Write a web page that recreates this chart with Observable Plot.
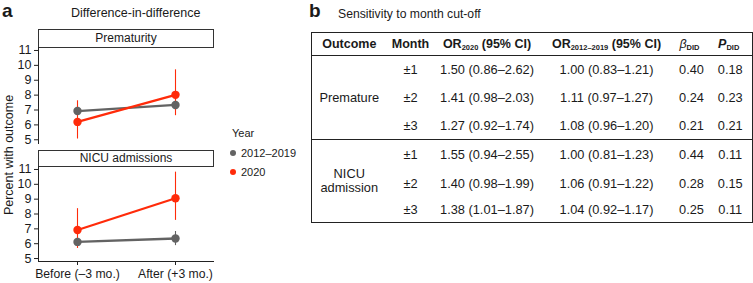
<!DOCTYPE html>
<html>
<head>
<meta charset="utf-8">
<script src="https://cdn.jsdelivr.net/npm/d3@7"></script>
<script src="https://cdn.jsdelivr.net/npm/@observablehq/plot@0.6"></script>
<style>
  html, body { margin: 0; padding: 0; background: #fff; }
  #root { position: relative; width: 753px; height: 283px; overflow: hidden;
          font-family: "Liberation Sans", Arial, Helvetica, sans-serif; color: #1a1a1a; }
  .abs { position: absolute; white-space: nowrap; }
  .panel-letter { font-weight: bold; font-size: 19px; line-height: 1; }
  .strip { position: absolute; box-sizing: border-box; border: 1px solid #333; background: #fff;
           font-size: 12px; text-align: center; }
  .plotbox { position: absolute; }
  .legend-item { position: absolute; font-size: 11px; display: flex; align-items: center; white-space: nowrap; }
  .legend-item span.sw { display: inline-block; width: 6px; height: 6px; border-radius: 50%; margin-right: 5px; }
  table.sens { position: absolute; left: 311px; top: 32px; border-collapse: collapse; table-layout: fixed;
               border: 1.5px solid #222; font-size: 12.8px; color: #1a1a1a; }
  table.sens td, table.sens th { padding: 0; text-align: center; vertical-align: middle; white-space: nowrap; }
  table.sens th { font-weight: bold; font-size: 12.5px; }
  table.sens sub { font-size: 7.5px; vertical-align: -2px; line-height: 0; }
  table.sens tr.head { height: 23px; border-bottom: 1px solid #222; }
  table.sens tr.sep { border-bottom: 1px solid #222; }
</style>
</head>
<body>
<div id="root"></div>
<script>
// ---------- Panel a data ----------
const outcomes = ["Prematurity", "NICU admissions"];
const periods = ["Before (–3 mo.)", "After (+3 mo.)"];
const years = ["2012–2019", "2020"];
const yearColors = ["#636363", "#ff2b0a"];
const yTicks = [5, 6, 7, 8, 9, 10, 11];

// values [before, after] per outcome & year
const prem_base = [6.93, 7.34];
const prem_base_lo = [6.62, 6.95];
const prem_base_hi = [7.25, 7.75];
const prem_2020 = [6.2, 8.02];
const prem_2020_lo = [5.05, 6.62];
const prem_2020_hi = [7.62, 9.7];

const nicu_base = [6.12, 6.35];
const nicu_base_lo = [5.8, 5.87];
const nicu_base_hi = [6.45, 6.82];
const nicu_2020 = [6.92, 9.06];
const nicu_2020_lo = [5.68, 7.57];
const nicu_2020_hi = [8.36, 10.82];

// ---------- Panel b data ----------
const tableOutcomes = ["Premature", "NICU<br>admission"];
const months = ["±1", "±2", "±3"];
const or2020 = [
  ["1.50 (0.86–2.62)", "1.41 (0.98–2.03)", "1.27 (0.92–1.74)"],
  ["1.55 (0.94–2.55)", "1.40 (0.98–1.99)", "1.38 (1.01–1.87)"]
];
const orBase = [
  ["1.00 (0.83–1.21)", "1.11 (0.97–1.27)", "1.08 (0.96–1.20)"],
  ["1.00 (0.81–1.23)", "1.06 (0.91–1.22)", "1.04 (0.92–1.17)"]
];
const betaDID = [["0.40", "0.24", "0.21"], ["0.44", "0.28", "0.25"]];
const pDID = [["0.18", "0.23", "0.21"], ["0.11", "0.15", "0.11"]];

// ---------- build ----------
const root = document.getElementById("root");
function addDiv(cls, html, style) {
  const d = document.createElement("div");
  d.className = cls;
  d.innerHTML = html;
  Object.assign(d.style, style);
  root.appendChild(d);
  return d;
}

function rows(vals, lo, hi, year) {
  return periods.map((p, i) => ({period: p, value: vals[i], lo: lo[i], hi: hi[i], year}));
}
const premData = [...rows(prem_base, prem_base_lo, prem_base_hi, years[0]), ...rows(prem_2020, prem_2020_lo, prem_2020_hi, years[1])];
const nicuData = [...rows(nicu_base, nicu_base_lo, nicu_base_hi, years[0]), ...rows(nicu_2020, nicu_2020_lo, nicu_2020_hi, years[1])];

const plotStyle = {fontFamily: "Liberation Sans, Arial, Helvetica, sans-serif", fontSize: "12px", color: "#1a1a1a", background: "transparent", overflow: "visible"};

function facetPlot(data, opts) {
  return Plot.plot({
    width: 216,
    height: opts.height,
    marginLeft: 38,
    marginRight: 3,
    marginTop: opts.marginTop,
    marginBottom: opts.marginBottom,
    style: plotStyle,
    x: {type: "point", domain: periods, padding: 0.39, axis: null},
    y: {domain: opts.yDomain, axis: null},
    color: {domain: years, range: yearColors},
    marks: [
      Plot.frame({anchor: "left", stroke: "#222", strokeWidth: 1}),
      ...(opts.showX ? [
        Plot.frame({anchor: "bottom", stroke: "#222", strokeWidth: 1}),
        Plot.axisX({tickSize: 4, tickPadding: 4, fontSize: 12.2, stroke: "#222", label: null})
      ] : []),
      Plot.axisY({ticks: yTicks, tickFormat: d3.format("d"), tickSize: 4, tickPadding: 3, fontSize: 12.5, stroke: "#222", label: null}),
      Plot.ruleX(data, {x: "period", y1: "lo", y2: "hi", stroke: "year", strokeWidth: 1.1}),
      Plot.line(data, {x: "period", y: "value", z: "year", stroke: "year", strokeWidth: 2.3}),
      Plot.dot(data, {x: "period", y: "value", fill: "year", r: 4.2, stroke: "none"})
    ]
  });
}

// Panel a labels
addDiv("abs panel-letter", "a", {left: "2px", top: "1px"});
addDiv("abs", "Difference-in-difference", {left: "71px", top: "6px", fontSize: "12.5px"});

// Strip + plot 1
addDiv("strip", outcomes[0], {left: "38px", top: "29px", width: "176px", height: "19px", lineHeight: "17px"});
const p1 = facetPlot(premData, {height: 106, marginTop: 7, marginBottom: 3, yDomain: [4.75, 11.2], showX: false});
const b1 = addDiv("plotbox", "", {left: "0px", top: "40px"});
b1.appendChild(p1);

// Strip + plot 2
addDiv("strip", outcomes[1], {left: "38px", top: "150px", width: "176px", height: "17px", lineHeight: "15px"});
const p2 = facetPlot(nicuData, {height: 123, marginTop: 6, marginBottom: 22, yDomain: [4.8, 11.2], showX: true});
const b2 = addDiv("plotbox", "", {left: "0px", top: "160px"});
b2.appendChild(p2);

// y-axis title
addDiv("abs", "Percent with outcome", {left: "9px", top: "155px", fontSize: "12.5px", transform: "translate(-50%, -50%) rotate(-90deg)"});

// legend
addDiv("abs", "Year", {left: "232px", top: "127px", fontSize: "11px"});
years.forEach((y, i) => {
  addDiv("legend-item", `<span class="sw" style="background:${yearColors[i]}"></span>${y}`, {left: "230px", top: (147 + i * 19) + "px"});
});

// Panel b
addDiv("abs panel-letter", "b", {left: "309px", top: "1px"});
addDiv("abs", "Sensitivity to month cut-off", {left: "338px", top: "7px", fontSize: "12.2px"});

const colWidths = [75, 48, 105, 134, 32, 47];
let html = "<colgroup>" + colWidths.map(w => `<col style="width:${w}px">`).join("") + "</colgroup>";
html += `<tr class="head"><th>Outcome</th><th>Month</th><th>OR<sub>2020</sub> (95% CI)</th><th>OR<sub>2012–2019</sub> (95% CI)</th><th><i style="font-weight:normal">β</i><sub>DID</sub></th><th><i>P</i><sub>DID</sub></th></tr>`;
const rowHeights = [[28, 28, 28], [30, 27, 26]];
tableOutcomes.forEach((o, g) => {
  months.forEach((m, r) => {
    const cls = (g === 0 && r === 2) ? ' class="sep"' : "";
    html += `<tr${cls} style="height:${rowHeights[g][r]}px">`;
    if (r === 0) html += `<td rowspan="3" style="line-height:14px">${o}</td>`;
    html += `<td>${m}</td><td>${or2020[g][r]}</td><td>${orBase[g][r]}</td><td style="padding-left:4px">${betaDID[g][r]}</td><td style="padding-left:3px">${pDID[g][r]}</td></tr>`;
  });
});
const tbl = document.createElement("table");
tbl.className = "sens";
tbl.innerHTML = html;
tbl.style.width = "442px";
root.appendChild(tbl);
</script>
</body>
</html>
